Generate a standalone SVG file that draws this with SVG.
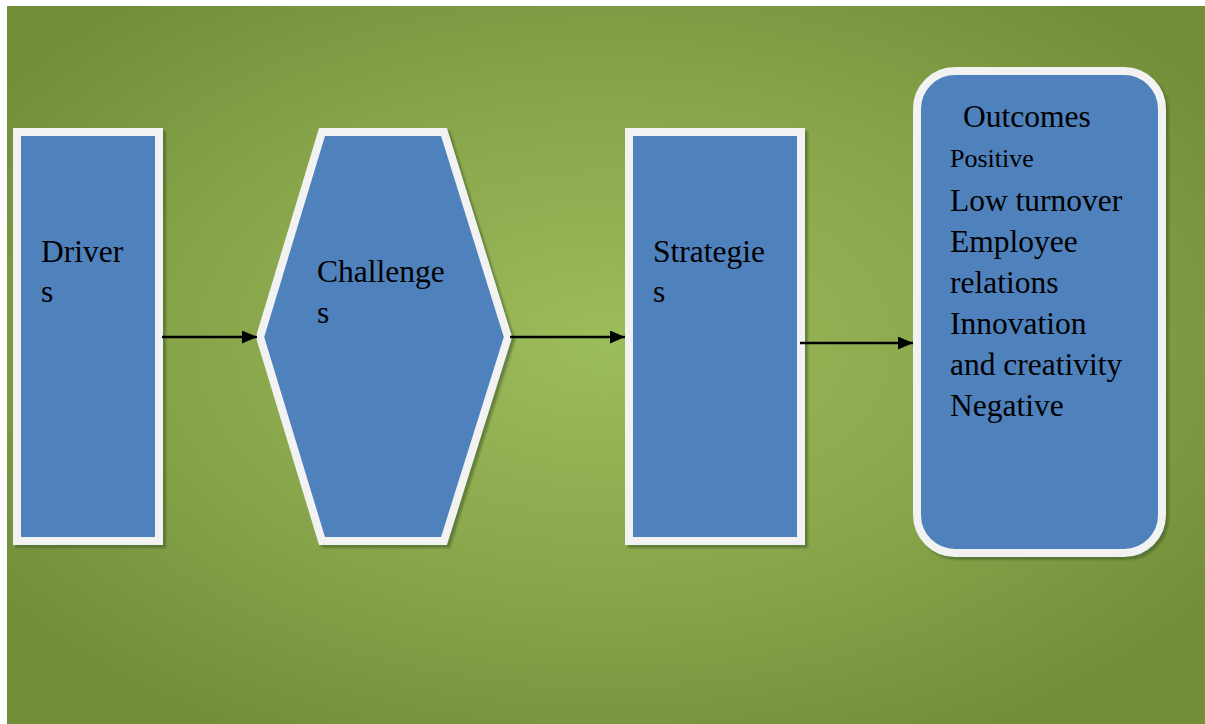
<svg xmlns="http://www.w3.org/2000/svg" width="1205" height="724" viewBox="0 0 1205 724">
<defs>
<radialGradient id="bg" cx="0.5" cy="0.47" r="0.62">
<stop offset="0" stop-color="#9dbc5b"/>
<stop offset="0.6" stop-color="#86a349"/>
<stop offset="1" stop-color="#728e39"/>
</radialGradient>
<filter id="blur" x="-10%" y="-10%" width="120%" height="120%"><feGaussianBlur stdDeviation="1"/></filter>
<marker id="arr" markerWidth="15" markerHeight="13" refX="15" refY="6.5" orient="auto" markerUnits="userSpaceOnUse">
<path d="M0,0 L15,6.5 L0,13 Z" fill="#000"/>
</marker>
<style>
.shape{fill:#4f81bd;stroke:#f2f2f2;stroke-width:8}
.shadow{fill:#3d5a2a;stroke:#3d5a2a;stroke-width:8;opacity:0.55;filter:url(#blur)}
.lbl{font-family:"Liberation Serif","Times New Roman",serif;font-size:31.5px;fill:#000}
.small{font-size:26px}
.conn{stroke:#000;stroke-width:2.5;fill:none;marker-end:url(#arr)}
</style>
</defs>
<rect x="0" y="0" width="1205" height="724" fill="#ffffff"/>
<rect x="7" y="6" width="1198" height="718" fill="url(#bg)"/>

<g id="drivers">
<rect class="shadow" x="20" y="135" width="142" height="409"/>
<rect class="shape" x="17" y="132" width="142" height="409"/>
<text class="lbl" x="41" y="262">Driver</text>
<text class="lbl" x="41" y="302">s</text>
</g>

<g id="challenges">
<polygon class="shadow" points="325,135 447,135 511,340 447,544 325,544 263,340"/>
<polygon class="shape" points="322,132 444,132 508,337 444,541 322,541 260,337"/>
<text class="lbl" x="317" y="282">Challenge</text>
<text class="lbl" x="317" y="323">s</text>
</g>

<g id="strategies">
<rect class="shadow" x="632" y="135" width="172" height="409"/>
<rect class="shape" x="629" y="132" width="172" height="409"/>
<text class="lbl" x="653" y="262">Strategie</text>
<text class="lbl" x="653" y="302">s</text>
</g>

<g id="outcomes">
<rect class="shadow" x="920" y="74" width="245" height="482" rx="38" ry="38"/>
<rect class="shape" x="917" y="71" width="245" height="482" rx="38" ry="38"/>
<text class="lbl" x="963" y="127">Outcomes</text>
<text class="lbl small" x="950" y="167">Positive</text>
<text class="lbl" x="950" y="211">Low turnover</text>
<text class="lbl" x="950" y="252">Employee</text>
<text class="lbl" x="950" y="293">relations</text>
<text class="lbl" x="950" y="334">Innovation</text>
<text class="lbl" x="950" y="375">and creativity</text>
<text class="lbl" x="950" y="416">Negative</text>
</g>

<g id="connectors">
<line class="conn" x1="162" y1="337" x2="257" y2="337"/>
<line class="conn" x1="510" y1="337" x2="625" y2="337"/>
<line class="conn" x1="800" y1="343" x2="913" y2="343"/>
</g>
</svg>
